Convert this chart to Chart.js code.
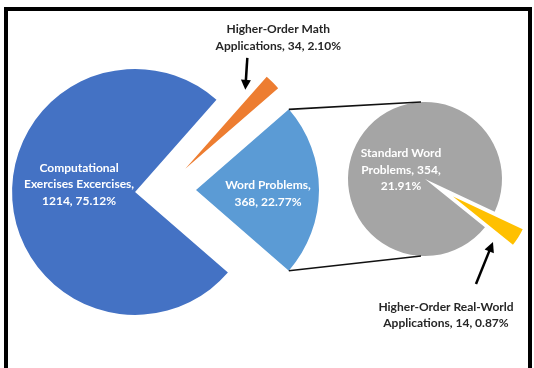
<!DOCTYPE html>
<html>
<head>
<meta charset="utf-8">
<script src="https://cdn.jsdelivr.net/npm/chart.js@4.4.1/dist/chart.umd.min.js"></script>
<style>
  html, body { margin: 0; padding: 0; background: #fff; }
  .wrap { position: relative; width: 534px; height: 368px; overflow: hidden; background: #fff; }
  .frame { position: absolute; left: 4px; top: 7px; width: 528px; height: 420px; box-sizing: border-box; border: 4px solid #000; }
  canvas { position: absolute; left: 0; top: 0; }
</style>
</head>
<body>
<div class="wrap"><div class="frame"></div></div>
<script>
const W = 534;
const H = 368;

// DATA

const mainLabels = [
  "Computational Exercises Excercises",
  "Higher-Order Math Applications",
  "Word Problems",
];
const mainValues = [1214, 34, 368];
const mainColors = ["#4472c4", "#ed7d31", "#5b9bd5"];

const subLabels = ["Standard Word Problems", "Higher-Order Real-World Applications"];
const subValues = [354, 14];
const subColors = ["#a5a5a5", "#ffc000"];

const grandTotal = mainValues.reduce((a, b) => a + b, 0);

// LAYOUT

const mainPie = { x: 164, y: 190, radius: 123, rotation: 131, explode: [29, 30, 32] };
const subPie = { x: 425, y: 179, radius: 77, rotation: 128.85, explode: [0, 33] };

// label placement, relative to the slice's (exploded) tip
const labelSpots = {
  main: [
    { dx: -56, dy: -7.5, maxWidth: 118, color: "#fff" },
    { dx: 93, dy: -131, maxWidth: 135, color: "#262626", arrow: [62, -111, 60, -79] },
    { dx: 72, dy: 3.5, maxWidth: 95, color: "#fff" },
  ],
  sub: [
    { dx: -24, dy: -9, maxWidth: 88, color: "#fff" },
    { dx: -7, dy: 118.5, maxWidth: 145, color: "#262626", arrow: [23, 87.5, 40, 45.5] },
  ],
};

const wrap = document.querySelector(".wrap");

function midAngle(values, index, rotation) {
  const total = values.reduce((a, b) => a + b, 0);
  let start = rotation - 90;
  for (let i = 0; i < index; i++) start += (values[i] / total) * 360;
  return ((start + (values[index] / total) * 180) * Math.PI) / 180;
}

// each slice gets its own pie so it can be pulled out without chart.js growing its radius
function makeSlice(labels, values, colors, index, pie, plugins) {
  const mid = midAngle(values, index, pie.rotation);
  const cx = pie.x + Math.cos(mid) * pie.explode[index];
  const cy = pie.y + Math.sin(mid) * pie.explode[index];

  const canvas = document.createElement("canvas");
  canvas.width = W;
  canvas.height = H;
  wrap.appendChild(canvas);

  return new Chart(canvas, {
    type: "pie",
    data: {
      labels: labels,
      datasets: [
        {
          data: values,
          backgroundColor: colors.map((c, i) => (i === index ? c : "rgba(0,0,0,0)")),
          borderWidth: 0,
          hoverOffset: 0,
        },
      ],
    },
    options: {
      responsive: false,
      animation: false,
      events: [],
      radius: pie.radius,
      rotation: pie.rotation,
      layout: {
        padding: {
          left: Math.max(0, 2 * cx - W),
          right: Math.max(0, W - 2 * cx),
          top: Math.max(0, 2 * cy - H),
          bottom: Math.max(0, H - 2 * cy),
        },
      },
      plugins: { legend: { display: false }, tooltip: { enabled: false } },
    },
    plugins: plugins || [],
  });
}

function wrapText(ctx, text, maxWidth) {
  const words = text.split(" ");
  const lines = [];
  let line = "";
  words.forEach((word) => {
    const test = line ? line + " " + word : word;
    if (line && ctx.measureText(test).width > maxWidth) {
      lines.push(line);
      line = word;
    } else {
      line = test;
    }
  });
  if (line) lines.push(line);
  return lines;
}

function drawArrow(ctx, x1, y1, x2, y2) {
  const ang = Math.atan2(y2 - y1, x2 - x1);
  const head = 10;
  ctx.save();
  ctx.strokeStyle = "#000";
  ctx.fillStyle = "#000";
  ctx.lineWidth = 2.5;
  ctx.beginPath();
  ctx.moveTo(x1, y1);
  ctx.lineTo(x2 - Math.cos(ang) * head * 0.8, y2 - Math.sin(ang) * head * 0.8);
  ctx.stroke();
  ctx.beginPath();
  ctx.moveTo(x2, y2);
  ctx.lineTo(x2 - Math.cos(ang) * head + Math.sin(ang) * 5, y2 - Math.sin(ang) * head - Math.cos(ang) * 5);
  ctx.lineTo(x2 - Math.cos(ang) * head - Math.sin(ang) * 5, y2 - Math.sin(ang) * head + Math.cos(ang) * 5);
  ctx.closePath();
  ctx.fill();
  ctx.restore();
}

const mainCharts = mainValues.map((v, i) => makeSlice(mainLabels, mainValues, mainColors, i, mainPie));
const subCharts = [];

const overlay = {
  id: "overlay",
  afterDraw(chart) {
    const ctx = chart.ctx;
    const all = { main: mainCharts, sub: subCharts.concat([chart]) };

    // connector lines from the word problems slice to the second pie
    const wp = mainCharts[2].getDatasetMeta(0).data[2];
    const gray = all.sub[0].getDatasetMeta(0).data[0];
    ctx.save();
    ctx.strokeStyle = "#111";
    ctx.lineWidth = 1.6;
    ctx.beginPath();
    ctx.moveTo(wp.x + Math.cos(wp.startAngle) * wp.outerRadius, wp.y + Math.sin(wp.startAngle) * wp.outerRadius);
    ctx.lineTo(gray.x - 4, gray.y - gray.outerRadius);
    ctx.moveTo(wp.x + Math.cos(wp.endAngle) * wp.outerRadius, wp.y + Math.sin(wp.endAngle) * wp.outerRadius);
    ctx.lineTo(gray.x - 4, gray.y + gray.outerRadius);
    ctx.stroke();
    ctx.restore();

    ctx.save();
    ctx.font = "bold 12px Lato";
    ctx.textAlign = "center";
    ctx.textBaseline = "middle";
    [
      ["main", mainLabels, mainValues],
      ["sub", subLabels, subValues],
    ].forEach(([key, labels, values]) => {
      labels.forEach((name, i) => {
        const arc = all[key][i].getDatasetMeta(0).data[i];
        const spot = labelSpots[key][i];
        const pct = ((values[i] / grandTotal) * 100).toFixed(2) + "%";
        const lines = wrapText(ctx, name + ", " + values[i] + ", " + pct, spot.maxWidth);
        const lh = 16.5;
        const top = arc.y + spot.dy - ((lines.length - 1) * lh) / 2;
        ctx.fillStyle = spot.color;
        lines.forEach((line, j) => ctx.fillText(line, arc.x + spot.dx, top + j * lh));
        if (spot.arrow) {
          const a = spot.arrow;
          drawArrow(ctx, arc.x + a[0], arc.y + a[1], arc.x + a[2], arc.y + a[3]);
        }
      });
    });
    ctx.restore();
  },
};

subCharts.push(makeSlice(subLabels, subValues, subColors, 0, subPie));
makeSlice(subLabels, subValues, subColors, 1, subPie, [overlay]);
</script>
</body>
</html>
